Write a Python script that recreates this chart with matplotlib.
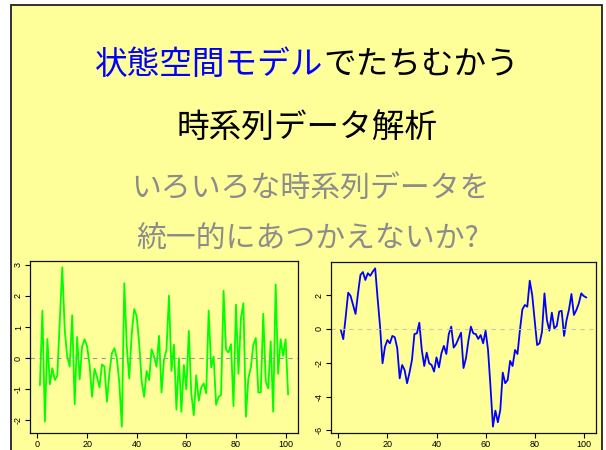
import matplotlib
matplotlib.use('Agg')
import matplotlib.pyplot as plt
import matplotlib.patches as patches
import numpy as np

plt.rcParams['font.family'] = ['Noto Sans CJK JP', 'DejaVu Sans']

# white noise series (t = 1..101)
noise = [-0.86, 1.53, -2.04, 0.62, -0.84, -0.32, -0.70, -0.57, 1.20, 2.92,
         0.90, 0.05, -0.27, 1.38, -1.48, 0.68, -0.68, 0.38, 0.61, 0.38,
         -0.20, -1.24, -0.34, -0.60, -0.94, -0.20, -0.27, -1.40, -0.48, 0.16,
         0.32, 0.00, -0.80, -2.20, 2.41, 0.38, -0.65, 0.80, 1.58, 1.35,
         0.48, -0.75, -1.24, -0.41, -0.70, 0.29, 0.05, -0.27, 0.72, -1.10,
         -0.05, 0.27, 2.01, -0.41, 0.43, -1.65, 0.00, -1.72, -0.22, -1.00,
         0.88, -1.13, -1.83, -0.55, -1.37, -0.94, -0.81, -1.13, 1.53, -0.30,
         0.05, -1.50, -1.24, -1.18, 2.17, 0.27, 0.18, 0.45, -1.54, 1.72,
         -0.50, 1.29, 1.77, -1.88, -0.65, -0.29, 0.43, 0.65, -1.10, -1.10,
         1.43, -0.75, -0.97, 0.54, -1.72, 2.37, -0.50, 0.61, 0.08, 0.61,
         -1.16]

# random-walk-like series (t = 1..101)
walk = [-0.06, -0.60, 0.73, 2.15, 1.95, 1.42, 0.89, 2.10, 3.20, 3.37,
        2.90, 3.30, 3.15, 3.39, 3.59, 1.81, 0.14, -2.03, -1.05, -0.65,
        -0.85, -0.41, -0.49, -1.14, -2.92, -2.13, -2.43, -3.21, -2.58, -1.83,
        -0.30, -0.26, 0.37, -1.24, -2.19, -1.40, -2.03, -2.13, -2.52, -1.68,
        -2.27, -1.44, -1.00, -1.48, -0.30, 0.14, -1.10, -0.89, -0.55, -0.22,
        -2.31, -1.74, -0.69, 0.14, -0.26, -0.30, -0.59, -0.36, -0.85, -0.10,
        -1.24, -3.41, -5.78, -4.83, -5.52, -4.79, -2.58, -3.21, -3.02, -1.89,
        -2.19, -1.24, -1.48, -0.06, 1.16, 1.42, 1.32, 2.86, 2.01, 0.53,
        -0.95, -0.85, -0.16, 2.11, 0.53, -0.10, 0.97, 0.04, 0.18, 1.03,
        1.08, -0.41, 0.53, 1.16, 2.07, 0.83, 1.12, 1.52, 2.11, 1.95,
        1.87]

title_blue = '状態空間モデル'
title_black = 'でたちむかう'
title_line2 = '時系列データ解析'
sub_line1 = 'いろいろな時系列データを'
sub_line2 = '統一的にあつかえないか?'

x_ticks = [0, 20, 40, 60, 80, 100]
noise_yticks = [-2, -1, 0, 1, 2, 3]
walk_yticks = [-6, -4, -2, 0, 2]

W, H = 606, 450
BG = '#ffff99'

fig = plt.figure(figsize=(W / 100, H / 100), dpi=100)
fig.patch.set_facecolor('white')

# slide panel (behind everything)
panel = patches.Rectangle((11 / W, -0.05), (602 - 11) / W, 1.05 - 5 / H,
                          transform=fig.transFigure, facecolor=BG,
                          edgecolor='#222222', linewidth=1.3, zorder=-10)
fig.patches.append(panel)


def fy(py):
    return 1 - py / H


# first title line: blue + black pieces, centred together
fs_title = 23.5
t1 = fig.text(0, fy(65), title_blue, color='#0000ff', fontsize=fs_title,
              ha='left', va='center')
t2 = fig.text(0, fy(65), title_black, color='black', fontsize=fs_title,
              ha='left', va='center')
fig.canvas.draw()
r = fig.canvas.get_renderer()
w1 = t1.get_window_extent(r).width
w2 = t2.get_window_extent(r).width
x0 = 307 - (w1 + w2) / 2
t1.set_x(x0 / W)
t2.set_x((x0 + w1) / W)

fig.text(307 / W, fy(128), title_line2, color='black', fontsize=fs_title,
         ha='center', va='center')
fig.text(310 / W, fy(188), sub_line1, color='#8c8c8c', fontsize=21.5,
         ha='center', va='center')
fig.text(308 / W, fy(239), sub_line2, color='#8c8c8c', fontsize=21.5,
         ha='center', va='center')


def r_style_axes(rect, y, color, yticks, zero_color):
    ax = fig.add_axes(rect)
    ax.set_facecolor(BG)
    t = np.arange(1, len(y) + 1)
    ax.plot(t, y, color=color, linewidth=1.3)
    ax.axhline(0, color=zero_color, linestyle=(0, (4, 4)), linewidth=0.8)
    lo, hi = min(y), max(y)
    pad = 0.04 * (hi - lo)
    ax.set_ylim(lo - pad, hi + pad)
    ax.set_xlim(1 - 4, len(y) + 4)
    ax.set_xticks(x_ticks)
    ax.set_yticks(yticks)
    ax.set_yticklabels([str(v) for v in yticks], rotation=90, va='center')
    ax.tick_params(direction='out', length=3.5, width=0.8, pad=1.5,
                   labelsize=6.5, colors='black')
    for lab in ax.get_xticklabels() + ax.get_yticklabels():
        lab.set_family('Liberation Sans')
    for s in ax.spines.values():
        s.set_linewidth(0.9)
        s.set_color('#111111')
    return ax


r_style_axes([30 / W, 17 / H, 268 / W, 172 / H], noise, '#00ff00',
             noise_yticks, '#999999')
r_style_axes([331 / W, 17 / H, 265 / W, 171 / H], walk, '#0000ff',
             walk_yticks, '#c8c8b0')

fig.savefig('out.png', dpi=100, facecolor=fig.get_facecolor())
